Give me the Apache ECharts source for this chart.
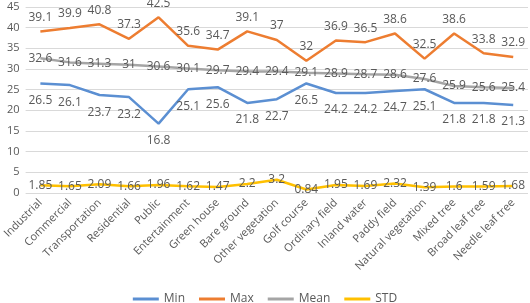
<!DOCTYPE html>
<html><head><meta charset="utf-8">
<script src="https://cdn.jsdelivr.net/npm/echarts@6/dist/echarts.min.js"></script>
<style>html,body{margin:0;padding:0;background:#fff}#c{width:530px;height:303px}</style>
</head><body><div id="c"></div>
<script>
const categories = ["Industrial","Commercial","Transportation","Residential","Public","Entertainment","Green house","Bare ground","Other vegetation","Golf course","Ordinary field","Inland water","Paddy field","Natural vegetation","Mixed tree","Broad leaf tree","Needle leaf tree"];
const minVals = [26.5,26.1,23.7,23.2,16.8,25.1,25.6,21.8,22.7,26.5,24.2,24.2,24.7,25.1,21.8,21.8,21.3];
const maxVals = [39.1,39.9,40.8,37.3,42.5,35.6,34.7,39.1,37,32,36.9,36.5,38.6,32.5,38.6,33.8,32.9];
const meanVals = [32.6,31.6,31.3,31,30.6,30.1,29.7,29.4,29.4,29.1,28.9,28.7,28.6,27.6,25.9,25.6,25.4];
const stdVals = [1.85,1.65,2.09,1.66,1.96,1.62,1.47,2.2,3.2,0.84,1.95,1.69,2.32,1.39,1.6,1.59,1.68];
const yTicks = {min:0, max:45, interval:5};

const font = '"Open Sans", "Noto Sans", sans-serif';
const txt = '#595959';
function s(name, data, color, pos, dist){
  return {name, type:'line', data, symbol:'circle', symbolSize:0.1, showSymbol:true, smooth:false,
    lineStyle:{color, width:2.5}, itemStyle:{color},
    labelLayout:{hideOverlap:false},
    label:{show:true, position:pos, distance:dist, color:txt, fontSize:12, fontFamily:font}};
}
const chart = echarts.init(document.getElementById('c'), null, {renderer:'canvas'});
chart.setOption({
  animation:false,
  grid:{left:25, right:2, top:7, bottom:110, containLabel:false},
  legend:{top:288, left:'center', icon:'rect', itemWidth:26, itemHeight:3, itemGap:14,
    textStyle:{color:txt, fontSize:12, fontFamily:font},
    data:['Min','Max','Mean','STD']},
  xAxis:{type:'category', data:categories, boundaryGap:true,
    axisLine:{show:false}, axisTick:{show:false},
    axisLabel:{rotate:45, color:txt, fontSize:11, fontFamily:font, interval:0, margin:8}},
  yAxis:{type:'value', min:yTicks.min, max:yTicks.max, interval:yTicks.interval,
    axisLine:{show:false}, axisTick:{show:false},
    axisLabel:{color:txt, fontSize:11, fontFamily:font, margin:6},
    splitLine:{lineStyle:{color:'#d9d9d9', width:1}}},
  series:[
    s('Min', minVals, '#5B8FD2', 'bottom', 11),
    s('Max', maxVals, '#ED7D31', 'top', 8),
    s('Mean', meanVals, '#A5A5A5', 'inside', 0),
    s('STD', stdVals, '#FFC000', 'inside', 0)
  ]
});
</script></body></html>
